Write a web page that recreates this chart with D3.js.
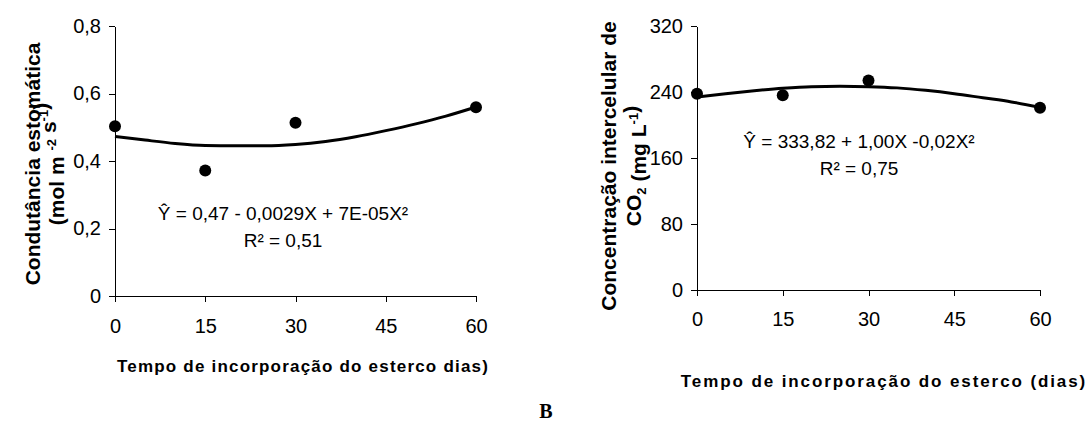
<!DOCTYPE html>
<html>
<head>
<meta charset="utf-8">
<script src="https://d3js.org/d3.v7.min.js"></script>
<style>
    html, body { margin: 0; padding: 0; background: #fff; }
    svg text { font-family: 'Liberation Sans', Arial, sans-serif; fill: #000; }
    .tick text { font-size: 20px; }
    .axis path, .axis line { stroke: #000; stroke-width: 1; shape-rendering: crispEdges; }
    .xtitle { font-size: 17px; font-weight: bold; }
    .ytitle { font-size: 21px; font-weight: bold; }
    .eq { font-size: 19px; }
    .fit { fill: none; stroke: #000; stroke-width: 3; }
</style>
</head>
<body>
<div id="chart"></div>
<script>
// days of manure incorporation
var dias = [0, 15, 30, 60];
var xTicks = [0, 15, 30, 45, 60];

// stomatal conductance (mol m-2 s-1)
var condObs = [0.503, 0.372, 0.513, 0.559];
var condFitX = [0, 5, 10, 15, 20, 25, 30, 35, 40, 45, 50, 55, 60];
var condFit = [0.473, 0.462, 0.452, 0.446, 0.445, 0.445, 0.449, 0.458, 0.472, 0.490, 0.510, 0.533, 0.560];
var condTicks = [0, 0.2, 0.4, 0.6, 0.8];

// intercellular CO2 (mg L-1)
var ciObs = [238, 236, 254, 221];
var ciFitX = [0, 5, 10, 15, 20, 25, 30, 35, 40, 45, 50, 55, 60];
var ciFit = [234, 238, 241.5, 244.5, 246.5, 247, 246.5, 245, 242, 238, 233, 228, 221.5];
var ciTicks = [0, 80, 160, 240, 320];

var W = 1089, H = 430;
var svg = d3.select("#chart").append("svg")
    .attr("width", W).attr("height", H);

var comma = function(d) { return String(d).replace(".", ","); };

function panel(o) {
    var x = d3.scaleLinear().domain([0, 60]).range([o.left, o.right]);
    var y = d3.scaleLinear().domain(o.ydomain).range([o.bottom, o.top]);
    var g = svg.append("g");

    g.append("g").attr("class", "axis")
        .attr("transform", "translate(0," + o.bottom + ")")
        .call(d3.axisBottom(x).tickValues(xTicks).tickSizeInner(6).tickSizeOuter(0).tickPadding(o.xpad))
        .call(s => s.selectAll("text").attr("font-family", null).attr("font-size", null));

    g.append("g").attr("class", "axis")
        .attr("transform", "translate(" + o.left + ",0)")
        .call(d3.axisLeft(y).tickValues(o.yticks).tickFormat(comma).tickSizeInner(6).tickSizeOuter(0).tickPadding(8))
        .call(s => s.selectAll("text").attr("font-family", null).attr("font-size", null));

    var line = d3.line()
        .x((d, i) => x(o.fitX[i]))
        .y(d => y(d))
        .curve(d3.curveMonotoneX);
    g.append("path").attr("class", "fit").attr("d", line(o.fit));

    g.selectAll("circle").data(o.obs).join("circle")
        .attr("cx", (d, i) => x(dias[i]))
        .attr("cy", d => y(d))
        .attr("r", 6)
        .attr("fill", "#000");

    g.append("text").attr("class", "eq")
        .attr("x", o.eqX).attr("y", o.eqY)
        .attr("text-anchor", "middle").text(o.eq);
    g.append("text").attr("class", "eq")
        .attr("x", o.eqX).attr("y", o.eqY + 27)
        .attr("text-anchor", "middle").text(o.r2);

    g.append("text").attr("class", "xtitle")
        .attr("x", o.xtX).attr("y", o.xtY)
        .style("letter-spacing", o.xtSpacing + "px")
        .attr("text-anchor", "middle").text(o.xtitle);

    o.ytitle.forEach(function(parts, k) {
        var t = g.append("text").attr("class", "ytitle")
            .attr("text-anchor", "middle")
            .attr("transform", "translate(" + o.ytX[k] + "," + o.ytY + ") rotate(-90)");
        parts.forEach(function(p) {
            if (p.sup) {
                t.append("tspan").attr("dy", -8).attr("font-size", 13).text(p.sup);
                t.append("tspan").attr("dy", 8).text("");
            } else if (p.sub) {
                t.append("tspan").attr("dy", 5).attr("font-size", 13).text(p.sub);
                t.append("tspan").attr("dy", -5).text("");
            } else {
                t.append("tspan").text(p.t);
            }
        });
    });
}

panel({
    left: 115, right: 476, top: 26, bottom: 296, xpad: 17,
    ydomain: [0, 0.8], yticks: condTicks,
    fitX: condFitX, fit: condFit, obs: condObs,
    eq: "Ŷ = 0,47 - 0,0029X + 7E-05X²", r2: "R² = 0,51", eqX: 283, eqY: 220,
    xtitle: "Tempo de incorporação do esterco dias)", xtX: 303, xtY: 372, xtSpacing: 1.2,
    ytitle: [[{t: "Condutância estomática"}],
             [{t: "(mol m "}, {sup: "-2"}, {t: " s"}, {sup: "-1"}, {t: ")"}]],
    ytX: [40, 64], ytY: 164
});

panel({
    left: 697, right: 1040, top: 26, bottom: 290, xpad: 16,
    ydomain: [0, 320], yticks: ciTicks,
    fitX: ciFitX, fit: ciFit, obs: ciObs,
    eq: "Ŷ = 333,82 + 1,00X -0,02X²", r2: "R² = 0,75", eqX: 859, eqY: 148,
    xtitle: "Tempo de incorporação do esterco (dias)", xtX: 884, xtY: 387, xtSpacing: 1.9,
    ytitle: [[{t: "Concentração intercelular de"}],
             [{t: "CO"}, {sub: "2"}, {t: " (mg L"}, {sup: "-1"}, {t: ")"}]],
    ytX: [616, 641], ytY: 166
});

svg.append("text")
    .attr("x", 546).attr("y", 418)
    .attr("text-anchor", "middle")
    .style("font-family", "'Liberation Serif', 'Times New Roman', serif")
    .style("font-weight", "bold")
    .style("font-size", "20px")
    .text("B");
</script>
</body>
</html>
